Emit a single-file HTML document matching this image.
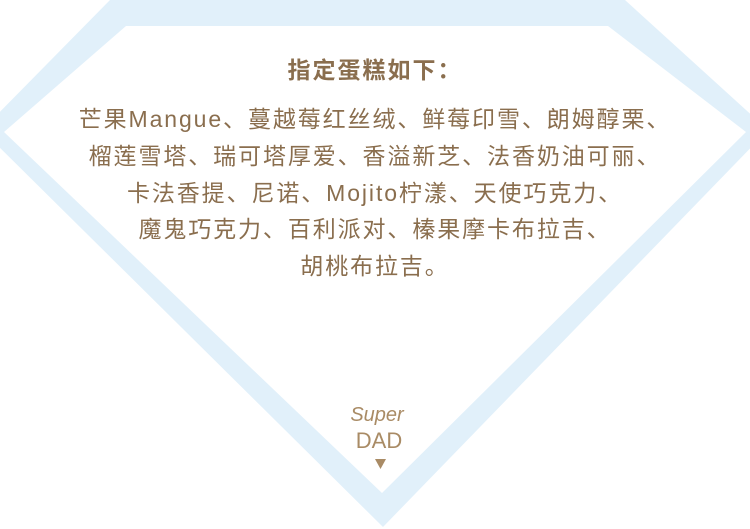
<!DOCTYPE html>
<html><head><meta charset="utf-8"><style>
html,body{margin:0;padding:0;background:#fff;}
#wrap{position:relative;width:750px;height:529px;overflow:hidden;font-family:"Liberation Sans","Noto Sans CJK SC",sans-serif;color:#8a6e4e;}
svg{position:absolute;left:0;top:0;}
.t{position:absolute;left:0;width:750px;text-align:center;white-space:nowrap;}
</style></head><body>
<div id="wrap">
<svg width="750" height="529">
<polygon points="110,0 625,0 768,130 383,527 -18,130" fill="#e1f0fa"/>
<polygon points="126,26 608,26 746,132 382,493 4,132" fill="#fff"/>
<g>
<text x="377" y="421" text-anchor="middle" font-family="Liberation Sans" font-size="20" fill="#a98b65" font-style="italic">Super</text>
<text x="379" y="448" text-anchor="middle" font-family="Liberation Sans" font-size="22" fill="#a98b65">DAD</text>
<polygon points="375,459 386,459 380.5,469" fill="#a98b65"/>
</g>
</svg>
<div class="t" style="top:51px;font-size:23px;font-weight:bold;letter-spacing:2px;">指定蛋糕如下：</div>
<div class="t" style="top:101px;font-size:23px;line-height:36.8px;letter-spacing:1.9px;">
芒果Mangue、蔓越莓红丝绒、鲜莓印雪、朗姆醇栗、<br>
榴莲雪塔、瑞可塔厚爱、香溢新芝、法香奶油可丽、<br>
卡法香提、尼诺、Mojito柠漾、天使巧克力、<br>
魔鬼巧克力、百利派对、榛果摩卡布拉吉、<br>
胡桃布拉吉。
</div>
</div>
</body></html>
